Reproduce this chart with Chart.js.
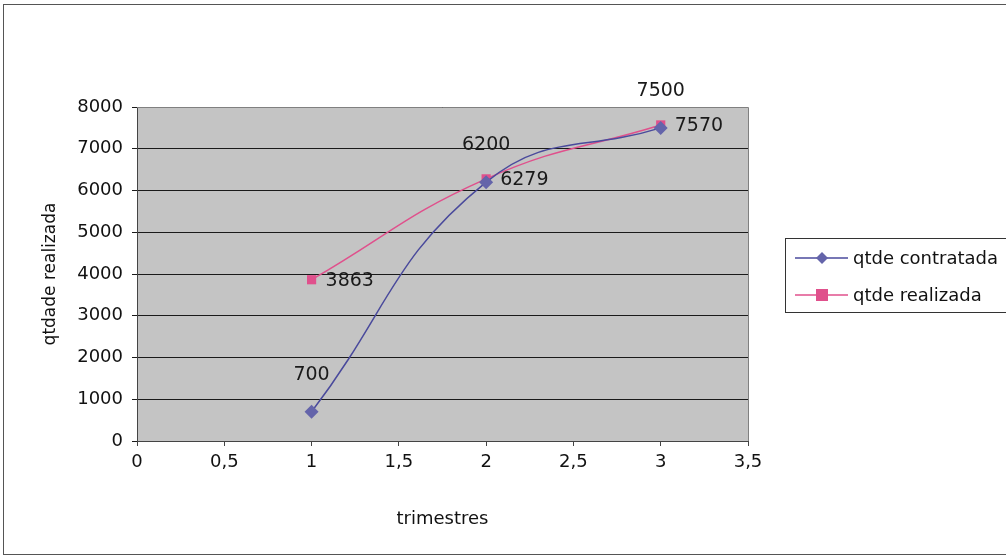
<!DOCTYPE html>
<html><head><meta charset="utf-8">
<script src="https://cdn.jsdelivr.net/npm/chart.js@4"></script>
<style>html,body{margin:0;padding:0;background:#fff}#wrap{width:1006px;height:559px}</style>
</head><body><div id="wrap"><canvas id="c" width="1006" height="559"></canvas></div>
<script>
const trimestres = [1, 2, 3];
const qtdeContratada = [700, 6200, 7500];
const qtdeRealizada = [3863, 6279, 7570];
const seriesNames = ['qtde contratada', 'qtde realizada'];
const xTitle = 'trimestres';
const yTitle = 'qtdade realizada';

const FONT = '"DejaVu Sans", sans-serif';
const blue = '#4a4a9c', pink = '#e0508c';

const bgPlugin = {
  id: 'bg',
  beforeDraw(chart) {
    const ctx = chart.ctx, a = chart.chartArea;
    ctx.save();
    ctx.fillStyle = '#fff';
    ctx.fillRect(0, 0, chart.width, chart.height);
    ctx.strokeStyle = '#555';
    ctx.lineWidth = 1;
    ctx.strokeRect(3.5, 4.5, 1010, 550);
    ctx.fillStyle = '#c4c4c4';
    ctx.fillRect(a.left, a.top, a.right - a.left, a.bottom - a.top);
    ctx.restore();
  },
  afterDraw(chart) {
    const ctx = chart.ctx, a = chart.chartArea;
    ctx.save();
    ctx.strokeStyle = '#808080';
    ctx.lineWidth = 1;
    ctx.beginPath();
    ctx.moveTo(a.left, a.top + 0.5); ctx.lineTo(a.right + 0.5, a.top + 0.5); ctx.lineTo(a.right + 0.5, a.bottom);
    ctx.stroke();
    // legend
    ctx.strokeStyle = '#333';
    ctx.strokeRect(785.5, 238.5, 240, 74);
    ctx.font = '18px ' + FONT;
    ctx.fillStyle = '#111';
    ctx.textBaseline = 'middle';
    const rows = [[258, blue, 'diamond'], [295, pink, 'square']];
    rows.forEach((r, i) => {
      ctx.strokeStyle = r[1]; ctx.lineWidth = 1.5;
      ctx.beginPath(); ctx.moveTo(795, r[0]); ctx.lineTo(848, r[0]); ctx.stroke();
      ctx.fillStyle = i === 0 ? '#6464aa' : pink;
      ctx.beginPath();
      if (r[2] === 'diamond') { ctx.moveTo(822, r[0]-6); ctx.lineTo(828, r[0]); ctx.lineTo(822, r[0]+6); ctx.lineTo(816, r[0]); ctx.closePath(); }
      else { ctx.rect(816, r[0]-6, 12, 12); }
      ctx.fill();
      ctx.fillStyle = '#111';
      ctx.fillText(seriesNames[i], 853, r[0] + 1);
    });
    ctx.restore();
  },
  afterDatasetsDraw(chart) {
    const ctx = chart.ctx;
    ctx.save();
    ctx.font = '19px ' + FONT;
    ctx.fillStyle = '#1a1a1a';
    ctx.textBaseline = 'middle';
    chart.getDatasetMeta(0).data.forEach((p, i) => {
      ctx.textAlign = 'center';
      ctx.fillText(String(qtdeContratada[i]), p.x, p.y - 37);
    });
    chart.getDatasetMeta(1).data.forEach((p, i) => {
      ctx.textAlign = 'left';
      ctx.fillText(String(qtdeRealizada[i]), p.x + 14, p.y + 1);
    });
    ctx.restore();
  }
};

new Chart(document.getElementById('c'), {
  type: 'line',
  data: {
    datasets: [
      { label: seriesNames[0], data: trimestres.map((x, i) => ({x, y: qtdeContratada[i]})),
        borderColor: blue, backgroundColor: '#6464aa', borderWidth: 1.5, tension: 0.45,
        pointStyle: 'rectRot', pointRadius: 7, pointBorderWidth: 0, pointBorderColor: '#6464aa' },
      { label: seriesNames[1], data: trimestres.map((x, i) => ({x, y: qtdeRealizada[i]})),
        borderColor: pink, backgroundColor: pink, borderWidth: 1.5, tension: 0.45,
        pointStyle: 'rect', pointRadius: 6.5, pointBorderWidth: 0, pointBorderColor: pink }
    ]
  },
  options: {
    responsive: false, animation: false, devicePixelRatio: 1,
    layout: { padding: { top: 107, right: 258, left: 0, bottom: 0 } },
    plugins: { legend: { display: false }, tooltip: { enabled: false } },
    scales: {
      x: {
        type: 'linear', min: 0, max: 3.5,
        afterFit(s) { s.height = 118; },
        ticks: { stepSize: 0.5, padding: 6, color: '#111', font: { family: FONT, size: 18 },
          callback: v => String(v).replace('.', ',') },
        grid: { drawOnChartArea: false, drawTicks: true, tickLength: 5, color: '#444' },
        border: { color: '#444', width: 1 },
        title: { display: true, text: xTitle, color: '#111', font: { family: FONT, size: 18 }, padding: { top: 0, bottom: 29 } }
      },
      y: {
        min: 0, max: 8000,
        afterFit(s) { s.width = 137; },
        ticks: { stepSize: 1000, padding: 9, color: '#111', font: { family: FONT, size: 18 },
          callback: v => String(v) },
        grid: { color: '#1a1a1a', lineWidth: 1, tickLength: 5 },
        border: { color: '#444', width: 1 },
        title: { display: true, text: yTitle, color: '#111', font: { family: FONT, size: 17 }, padding: { top: 40, bottom: 0 } }
      }
    }
  },
  plugins: [bgPlugin]
});
</script></body></html>
